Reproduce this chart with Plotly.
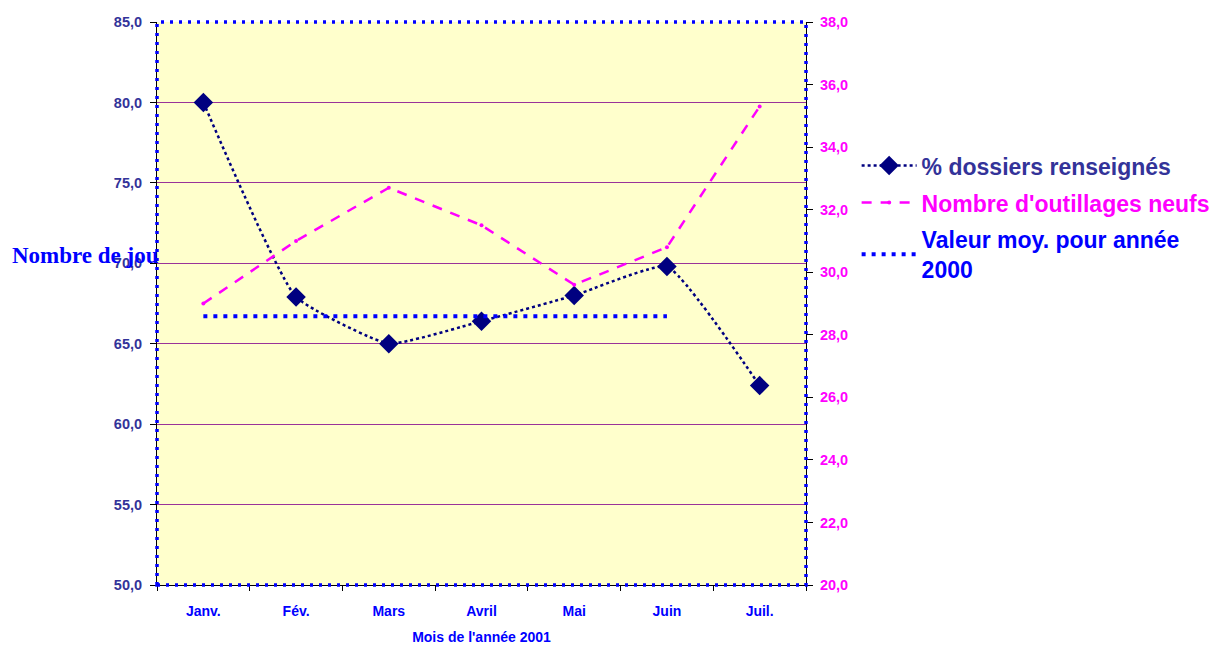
import plotly.graph_objects as go

# Data
months = ["Janv.", "Fév.", "Mars", "Avril", "Mai", "Juin", "Juil."]
pct_dossiers = [80.0, 67.9, 65.0, 66.4, 68.0, 69.8, 62.4]
nb_outillages = [29.0, 31.0, 32.7, 31.5, 29.6, 30.8, 35.3]
avg_months = ["Janv.", "Fév.", "Mars", "Avril", "Mai", "Juin"]
avg_2000 = [66.7, 66.7, 66.7, 66.7, 66.7, 66.7]

FONT = "Arial, Liberation Sans, sans-serif"

fig = go.Figure()

fig.add_trace(go.Scatter(
    x=months, y=pct_dossiers,
    name="<span style='color:#333399'>% dossiers renseignés</span>",
    mode="lines+markers",
    line=dict(color="#000080", width=2.5, dash="3px,3px", shape="spline", smoothing=0.4),
    marker=dict(symbol="diamond", size=15, color="#000080"),
    legendgroup="a",
))
fig.add_trace(go.Scatter(
    x=months, y=nb_outillages,
    name="<span style='color:#FF00FF'>Nombre d'outillages neufs</span>",
    yaxis="y2", mode="lines+markers",
    line=dict(color="#FF00FF", width=2.5, dash="10px,9px"),
    marker=dict(symbol="circle", size=4, color="#FF00FF"),
    legendgroup="b",
))
fig.add_trace(go.Scatter(
    x=avg_months, y=avg_2000,
    name="<span style='color:#0000FF'>Valeur moy. pour année<br>2000</span>",
    mode="lines", line=dict(color="#0000FF", width=4, dash="4px,6px"),
    legendgroup="c",
))

# the page has an 8px body margin, so margins are shifted by 8px
fig.update_layout(
    width=1223, height=646,
    margin=dict(l=149, r=425, t=14, b=69),
    paper_bgcolor="white",
    plot_bgcolor="#FFFFCC",
    separators=", ",
    font=dict(family=FONT),
    showlegend=True,
    legend=dict(
        x=1.078, y=0.783, xanchor="left", yanchor="top",
        font=dict(family=FONT, size=23, color="#333399", weight="bold"),
        tracegroupgap=4, itemwidth=55, bgcolor="rgba(0,0,0,0)",
    ),
    xaxis=dict(
        type="category", range=[-0.5, 6.5], automargin=False,
        showgrid=False, ticks="outside", ticklen=5, tickcolor="black",
        tickson="boundaries", showline=True, linecolor="black", linewidth=1,
        zeroline=False, ticklabelstandoff=13,
        tickfont=dict(family=FONT, size=14, color="#0000FF", weight="bold"),
        title=dict(text="Mois de l'année 2001", standoff=14,
                   font=dict(family=FONT, size=14, color="#0000FF", weight="bold")),
    ),
    yaxis=dict(
        range=[50, 85], dtick=5, tickformat=".1f", automargin=False,
        showgrid=True, gridcolor="#993399", gridwidth=1,
        ticks="outside", ticklen=6, tickcolor="black",
        showline=True, linecolor="black", linewidth=1, zeroline=False,
        ticklabelstandoff=5,
        tickfont=dict(family=FONT, size=14.5, color="#333399", weight="bold"),
    ),
    yaxis2=dict(
        range=[20, 38], dtick=2, tickformat=".1f", overlaying="y", side="right",
        automargin=False, showgrid=False, ticks="outside", ticklen=6, tickcolor="black",
        showline=True, linecolor="black", linewidth=1, zeroline=False,
        ticklabelstandoff=4,
        tickfont=dict(family=FONT, size=14.5, color="#FF00FF", weight="bold"),
    ),
)

# dotted blue frame around the plot area
fig.add_shape(type="rect", xref="x domain", yref="y domain", x0=0, x1=1, y0=0, y1=1,
              line=dict(color="#0000FF", width=3.5, dash="3px,6px"), layer="above")

fig.add_annotation(text="Nombre de jou", xref="paper", yref="paper", x=-0.2265, y=0.585,
                   xanchor="left", yanchor="middle", showarrow=False,
                   font=dict(family="Liberation Serif, Times New Roman, serif", size=23,
                             color="#0000FF", weight="bold"))

fig.write_html("out.html")
